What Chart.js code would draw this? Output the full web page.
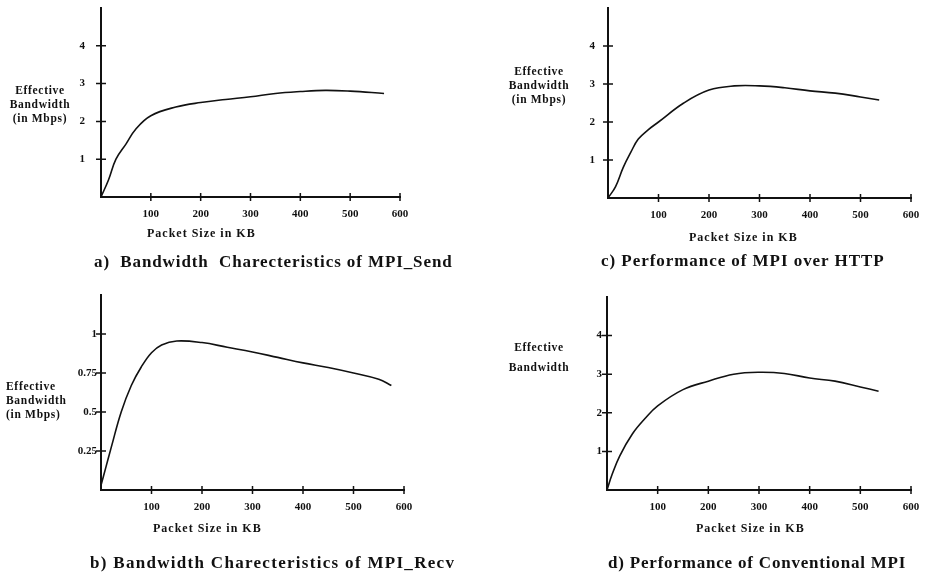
<!DOCTYPE html>
<html>
<head>
<meta charset="utf-8">
<script src="https://cdn.jsdelivr.net/npm/chart.js@4.4.1/dist/chart.umd.min.js"></script>
<style>
  body { margin: 0; background: #fff; }
  #page { position: relative; width: 933px; height: 573px; overflow: hidden; font-family: "Liberation Serif", "DejaVu Serif", serif; color: #111; }
  canvas { position: absolute; }
  .lbl { position: absolute; font-weight: bold; white-space: pre; line-height: 1; }
  .ytitle { font-size: 11.5px; letter-spacing: 0.7px; line-height: 14px; }
  .xtitle { font-size: 12px; letter-spacing: 1px; }
  .cap { font-size: 17px; }
</style>
</head>
<body>
<div id="page">
  <canvas id="chartA" width="466" height="290" style="left:0;top:0"></canvas>
  <canvas id="chartC" width="467" height="290" style="left:466px;top:0"></canvas>
  <canvas id="chartB" width="466" height="283" style="left:0;top:290px"></canvas>
  <canvas id="chartD" width="467" height="283" style="left:466px;top:290px"></canvas>

  <div class="lbl ytitle" style="left:4px;top:83px;text-align:center;width:72px">Effective
Bandwidth
(in Mbps)</div>
  <div class="lbl ytitle" style="left:503px;top:64px;text-align:center;width:72px">Effective
Bandwidth
(in Mbps)</div>
  <div class="lbl ytitle" style="left:6px;top:379px;width:72px">Effective
Bandwidth
(in Mbps)</div>
  <div class="lbl ytitle" style="left:503px;top:337px;text-align:center;width:72px;line-height:20px">Effective
Bandwidth</div>

  <div class="lbl xtitle" style="left:147px;top:227px">Packet Size in KB</div>
  <div class="lbl xtitle" style="left:689px;top:231px">Packet Size in KB</div>
  <div class="lbl xtitle" style="left:153px;top:522px">Packet Size in KB</div>
  <div class="lbl xtitle" style="left:696px;top:522px">Packet Size in KB</div>

  <div class="lbl cap" style="left:94px;top:253px;letter-spacing:0.9px">a)  Bandwidth  Charecteristics of MPI_Send</div>
  <div class="lbl cap" style="left:601px;top:252px;letter-spacing:0.95px">c) Performance of MPI over HTTP</div>
  <div class="lbl cap" style="left:90px;top:554px;letter-spacing:1.3px">b) Bandwidth Charecteristics of MPI_Recv</div>
  <div class="lbl cap" style="left:608px;top:554px;letter-spacing:0.8px">d) Performance of Conventional MPI</div>
</div>

<script>
// packet size (KB) and effective bandwidth (Mbps)
const sendSize = [0, 15, 30, 50, 70, 100, 150, 200, 250, 300, 350, 400, 450, 500, 568];
const sendBw = [0, 0.45, 1.0, 1.4, 1.8, 2.15, 2.38, 2.5, 2.58, 2.65, 2.74, 2.79, 2.82, 2.8, 2.74];

const httpSize = [0, 15, 30, 45, 60, 80, 100, 150, 200, 250, 300, 350, 400, 450, 500, 537];
const httpBw = [0, 0.3, 0.8, 1.2, 1.55, 1.8, 2.0, 2.5, 2.84, 2.95, 2.95, 2.9, 2.82, 2.76, 2.66, 2.58];

const recvSize = [0, 10, 20, 40, 60, 80, 100, 120, 150, 200, 250, 300, 350, 400, 450, 500, 550, 575];
const recvBw = [0.03, 0.15, 0.27, 0.5, 0.67, 0.79, 0.88, 0.93, 0.955, 0.945, 0.915, 0.885, 0.85, 0.815, 0.785, 0.75, 0.71, 0.67];

const convSize = [0, 10, 25, 50, 75, 100, 150, 200, 250, 300, 350, 400, 450, 500, 536];
const convBw = [0, 0.4, 0.88, 1.45, 1.85, 2.18, 2.6, 2.82, 3.0, 3.05, 3.02, 2.9, 2.82, 2.67, 2.56];

const xTicks = [100, 200, 300, 400, 500, 600];
const yTicksMbps = [1, 2, 3, 4];
const yTicksRecv = [0.25, 0.5, 0.75, 1];

// little "+" marks crossing the axes
const crossTicks = {
  id: "crossTicks",
  afterDraw(chart) {
    const { ctx, scales } = chart;
    const xs = scales.x, ys = scales.y;
    ctx.save();
    ctx.strokeStyle = "#111";
    ctx.lineWidth = 1.5;
    ctx.beginPath();
    xs.ticks.forEach((t) => {
      const px = xs.getPixelForValue(t.value);
      ctx.moveTo(px, ys.bottom - 4);
      ctx.lineTo(px, ys.bottom + 4);
    });
    ys.ticks.forEach((t) => {
      const py = ys.getPixelForValue(t.value);
      ctx.moveTo(xs.left - 5, py);
      ctx.lineTo(xs.left + 5, py);
    });
    ctx.stroke();
    ctx.restore();
  },
};

function makePanel(id, sizes, bw, yTicks, yMax, box, yPad) {
  const canvas = document.getElementById(id);
  const font = { family: "'Liberation Serif', serif", size: 11, weight: "bold" };
  new Chart(canvas.getContext("2d"), {
    type: "line",
    data: {
      datasets: [
        {
          data: sizes.map((s, i) => ({ x: s, y: bw[i] })),
          borderColor: "#111",
          borderWidth: 1.6,
          pointRadius: 0,
          tension: 0.4,
          fill: false,
        },
      ],
    },
    options: {
      responsive: false,
      animation: false,
      devicePixelRatio: 1,
      layout: { padding: { left: 0, top: box.top, right: canvas.width - box.right, bottom: 0 } },
      plugins: { legend: { display: false }, tooltip: { enabled: false } },
      scales: {
        x: {
          type: "linear",
          min: 0,
          max: 600,
          grid: { display: false, drawTicks: false },
          border: { display: true, color: "#111", width: 2 },
          afterBuildTicks: (axis) => { axis.ticks = xTicks.map((v) => ({ value: v })); },
          afterFit: (axis) => {
            axis.height = canvas.height - box.bottom;
            axis.paddingLeft = 0;
            axis.paddingRight = 0;
          },
          ticks: { color: "#111", font: font, padding: 11, maxRotation: 0 },
        },
        y: {
          type: "linear",
          min: 0,
          max: yMax,
          grid: { display: false, drawTicks: false },
          border: { display: true, color: "#111", width: 2 },
          afterBuildTicks: (axis) => { axis.ticks = yTicks.map((v) => ({ value: v })); },
          afterFit: (axis) => {
            axis.width = box.left;
            axis.paddingTop = 0;
            axis.paddingBottom = 0;
          },
          ticks: { color: "#111", font: font, padding: yPad, callback: (v) => String(v) },
        },
      },
    },
    plugins: [crossTicks],
  });
}

makePanel("chartA", sendSize, sendBw, yTicksMbps, 5, { left: 101, right: 400, top: 8, bottom: 197 }, 16);
makePanel("chartC", httpSize, httpBw, yTicksMbps, 5, { left: 142, right: 445, top: 8, bottom: 198 }, 13);
makePanel("chartB", recvSize, recvBw, yTicksRecv, 1.25, { left: 101, right: 404, top: 5, bottom: 200 }, 4);
makePanel("chartD", convSize, convBw, yTicksMbps, 5, { left: 141, right: 445, top: 7, bottom: 200 }, 5);
</script>
</body>
</html>
